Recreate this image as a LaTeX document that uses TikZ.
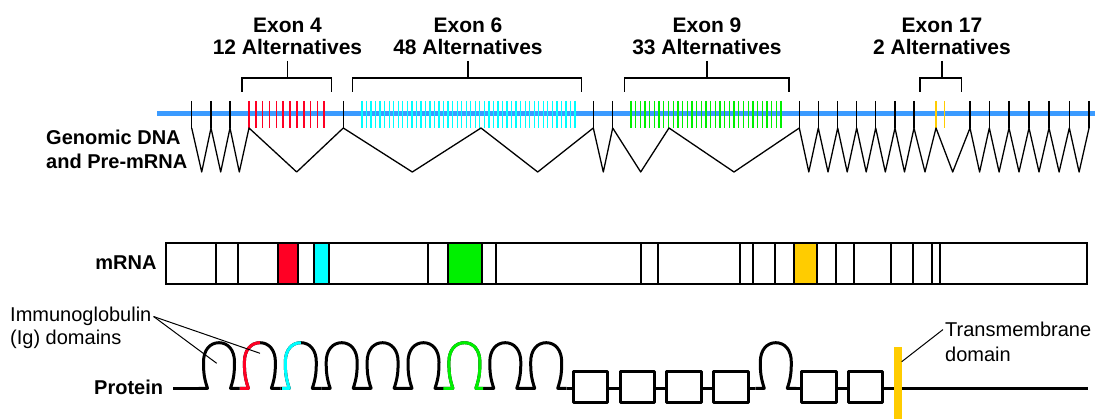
\documentclass[tikz,border=0pt]{standalone}
\usepackage{fontspec}
\setmainfont{Liberation Sans}
\definecolor{dnablue}{RGB}{59,155,255}
\definecolor{exred}{RGB}{255,0,36}
\definecolor{excyan}{RGB}{0,255,255}
\definecolor{exgreen}{RGB}{0,240,0}
\definecolor{exyellow}{RGB}{255,204,0}
\tikzset{
  intron/.style={line width=1.3pt, line join=round},
  exontick/.style={line width=1.6pt},
  bracket/.style={line width=1.5pt},
  head/.style={font=\bfseries\fontsize{21}{22.3}\selectfont, align=center, inner sep=0pt, outer ysep=6pt},
  lab/.style={font=\fontsize{20}{24}\selectfont, align=left, inner sep=2pt},
  blab/.style={lab, font=\bfseries\fontsize{20}{24}\selectfont},
  prot/.style={line width=3pt, line join=round},
  lead/.style={line width=1pt},
  mrnabox/.style={line width=1.8pt},
}
\begin{document}
\begin{tikzpicture}[x=1pt,y=-1pt]
\useasboundingbox (0,0) rectangle (1098,419);

% genomic DNA
\draw[line width=5pt, dnablue] (157,114) -- (1095,114);
\foreach \x in {191.7,211,230,343.3,593.3,612.7,799.3,818.3,837.7,856.7,875.7,895,914,970,989.3,1009,1029,1049,1069.3,1089}
  \draw[intron] (\x,101) -- (\x,128);
\foreach \i in {0,...,11}
  \draw[exontick, exred] ({249+\i*6.845},101) -- ++(0,27);
\foreach \i in {0,...,47}
  \draw[exontick, excyan, line width=1.3pt] ({362+\i*4.532},101) -- ++(0,27);
\foreach \i in {0,...,32}
  \draw[exontick, exgreen, line width=1.3pt] ({631+\i*4.6875},101) -- ++(0,27);
\draw[exontick, exyellow] (936,101) -- ++(0,27);
\draw[exontick, exyellow] (944.3,101) -- ++(0,27);

% splicing
\draw[intron] (191.7,128) -- (201.7,172) -- (211,128) -- (220.7,172) -- (230,128) -- (239.3,172)
  -- (249,128) -- (296.7,172) -- (343.3,128) -- (412.3,172) -- (481,128) -- (537.7,172)
  -- (593.3,128) -- (603.3,172) -- (612.7,128) -- (640.7,172) -- (669,128) -- (734,172)
  -- (799.3,128) -- (808.8,172) -- (818.3,128) -- (828,172) -- (837.7,128) -- (847.2,172)
  -- (856.7,128) -- (866.2,172) -- (875.7,128) -- (885.3,172) -- (895,128) -- (904.5,172)
  -- (914,128) -- (925,172) -- (936,128) -- (952.7,172) -- (970,128) -- (979.6,172)
  -- (989.3,128) -- (999.1,172) -- (1009,128) -- (1019,172) -- (1029,128) -- (1039,172)
  -- (1049,128) -- (1059.1,172) -- (1069.3,128) -- (1079.1,172) -- (1089,128);

% alternative exon clusters
\node[head, anchor=south] (ex4) at (287.5,61) {Exon 4\\12 Alternatives};
\node[head, anchor=south] (ex6) at (468,61) {Exon 6\\48 Alternatives};
\node[head, anchor=south] (ex9) at (707,61) {Exon 9\\33 Alternatives};
\node[head, anchor=south] (ex17) at (942,61) {Exon 17\\2 Alternatives};
\coordinate (b4) at (287.5,78);
\coordinate (b6) at (468,78);
\coordinate (b9) at (707,78);
\coordinate (b17) at (942,78);
\draw[bracket] (242,92) |- (331.7,78) -- (331.7,92);
\draw[bracket] (352.7,92) |- (581.7,78) -- (581.7,92);
\draw[bracket] (624.3,92) |- (789,78) -- (789,92);
\draw[bracket] (920,92) |- (961.7,78) -- (961.7,92);
\draw[bracket] (ex4) -- (b4);
\draw[bracket] (ex6) -- (b6);
\draw[bracket] (ex9) -- (b9);
\draw[bracket] (ex17) -- (b17);

\node[blab, anchor=base west] (dna) at (44,168.3) {Genomic DNA\\and Pre-mRNA};

% mRNA
\node[blab, anchor=base east] (mrna) at (158.7,270) {mRNA};
\draw[mrnabox] (166,243.3) rectangle (1087.3,284.3);
\foreach \x in {215.7,238.3,428.3,496,640.7,658.3,740,753.3,775,836,854.3,891,913.3,931.7,940}
  \draw[mrnabox] (\x,243.3) -- (\x,284.3);
\filldraw[mrnabox, fill=exred] (278.3,243.3) rectangle (297.7,284.3);
\filldraw[mrnabox, fill=excyan] (314.3,243.3) rectangle (329.3,284.3);
\filldraw[mrnabox, fill=exgreen] (447.7,243.3) rectangle (482.3,284.3);
\filldraw[mrnabox, fill=exyellow] (794.3,243.3) rectangle (817.3,284.3);

% protein
\node[blab, anchor=base east] (prot) at (165.3,394.3) {Protein};
\coordinate (pstart) at (173.3,388.3);
\coordinate (pend) at (1088.3,388.3);
\draw[prot] (pstart) -- (198.55,388.3);
\foreach \c in {219,259.9,300.8,341.7,382.6,423.5,464.4,505.3,546.2,775.8}
  \draw[prot, xshift=\c pt] (-20.45,388.3) -- (-11.5,388.3) .. controls (-15,378) and (-15.5,372) .. (-15.5,362)
    .. controls (-15.5,350) and (-9,342.7) .. (0,342.7) .. controls (9,342.7) and (15.5,350) .. (15.5,362)
    .. controls (15.5,372) and (15,378) .. (11.5,388.3) -- (20.45,388.3);
\draw[prot] (566.65,388.3) -- (755.35,388.3);
\draw[prot] (796.25,388.3) -- (pend);
% variable Ig halves
\draw[prot, exred, xshift=259.9pt] (-19.9,388.3) -- (-11.5,388.3) .. controls (-15,378) and (-15.5,372) .. (-15.5,362)
    .. controls (-15.5,350) and (-9,342.7) .. (0,342.7);
\draw[prot, excyan, xshift=300.8pt] (-18.8,388.3) -- (-11.5,388.3) .. controls (-15,378) and (-15.5,372) .. (-15.5,362)
    .. controls (-15.5,350) and (-9,342.7) .. (0,342.7);
\draw[prot, exgreen, xshift=464.4pt] (-21.1,388.3) -- (-11.5,388.3) .. controls (-15,378) and (-15.5,372) .. (-15.5,362)
    .. controls (-15.5,350) and (-9,342.7) .. (0,342.7) .. controls (9,342.7) and (15.5,350) .. (15.5,362)
    .. controls (15.5,372) and (15,378) .. (11.5,388.3) -- (18.6,388.3);
% fibronectin boxes
\foreach \x in {573.3,620,666.7,713.4,801.7,848.3}
  \draw[prot, fill=white] (\x,371.7) rectangle ++(34.6,31);
\fill[exyellow] (894.3,346.7) rectangle (901.7,419);

% labels
\node[lab, anchor=base west] (ig) at (8,321.7) {Immunoglobulin};
\node[lab, anchor=base west] (igd) at (8,345) {(Ig) domains};
\coordinate (ig1) at (216.7,363.3);
\coordinate (ig2) at (260,353.3);
\draw[lead] (ig.east) -- (ig1);
\draw[lead] (ig.east) -- (ig2);
\node[lab, anchor=base west] (tm) at (943,336.7) {Transmembrane};
\node[lab, anchor=base west] (tmd) at (943,361.7) {domain};
\coordinate (tmbar) at (901.7,361.7);
\draw[lead] (tm.west) -- (tmbar);
\end{tikzpicture}
\end{document}
